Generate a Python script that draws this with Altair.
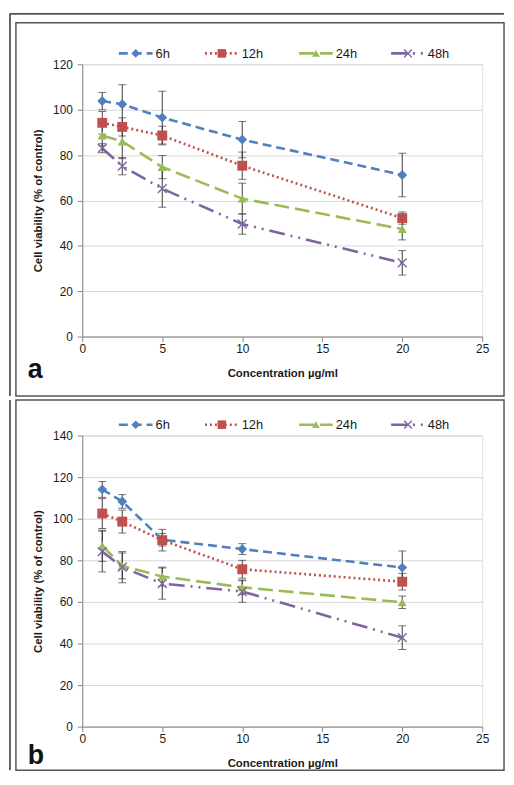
import altair as alt
import pandas as pd

# ---------------- data ----------------
series = ["6h", "12h", "24h", "48h"]
conc = [1.25, 2.5, 5, 10, 20]

a_6h = [103.8, 102.4, 96.5, 86.8, 71.2]
a_6h_err = [3.8, 8.6, 11.6, 8.0, 9.6]
a_12h = [94.2, 92.4, 88.6, 75.3, 52.2]
a_12h_err = [5.0, 4.0, 4.1, 6.0, 2.7]
a_24h = [88.6, 86.0, 74.7, 60.8, 47.4]
a_24h_err = [4.5, 7.6, 5.1, 6.8, 4.8]
a_48h = [83.0, 75.1, 65.2, 49.6, 32.5]
a_48h_err = [2.0, 3.8, 8.2, 4.5, 5.4]

b_6h = [114.1, 108.3, 89.9, 85.4, 76.5]
b_6h_err = [3.8, 3.3, 3.0, 2.6, 8.0]
b_12h = [102.5, 98.6, 89.7, 75.7, 69.7]
b_12h_err = [7.2, 5.5, 5.2, 4.3, 4.0]
b_24h = [87.0, 77.3, 72.2, 67.0, 59.8]
b_24h_err = [7.5, 6.2, 4.5, 3.5, 3.0]
b_48h = [84.2, 76.7, 68.8, 65.0, 42.8]
b_48h_err = [9.8, 7.5, 7.5, 5.2, 5.7]

x_ticks = [0, 5, 10, 15, 20, 25]
a_y_ticks = [0, 20, 40, 60, 80, 100, 120]
b_y_ticks = [0, 20, 40, 60, 80, 100, 120, 140]

# ---------------- styles ----------------
colors = ["#4F81BD", "#C0504D", "#9BBB59", "#8064A2"]
dashes = [[9, 5], [2, 3], [15, 6], [16, 6, 2, 6, 2, 6]]
shapes = ["diamond", "square", "triangle-up", "M-1,-1L1,1M-1,1L1,-1"]
msizes = [100, 100, 85, 80]
FONT = "Liberation Sans"
TXT = "#1a1a1a"
AXC = "#868686"
FRAME = "#555555"

W = 404
RIGHT = 426
LEFT_OUT = -73


def build_df(vals, errs):
    rows = []
    for s, v, e in zip(series, vals, errs):
        for xx, yy, ee in zip(conc, v, e):
            rows.append({"series": s, "x": xx, "y": yy, "lo": yy - ee, "hi": yy + ee})
    return pd.DataFrame(rows)


one = alt.Data(values=[{"k": 0}])


def panel(df, yticks, letter, H, frame_top, frame_bottom, legend_y, letter_y, outer_top):
    ymax = yticks[-1]
    xs = alt.Scale(domain=[0, 25], nice=False, zero=True)
    ys = alt.Scale(domain=[0, ymax], nice=False)
    xaxis = alt.Axis(values=x_ticks, title="Concentration µg/ml", grid=False,
                     domainColor=AXC, tickColor=AXC, tickSize=5, labelPadding=2,
                     labelFlush=False,
                     labelFontSize=12, labelColor=TXT, labelFont=FONT,
                     titleFont=FONT, titleFontSize=11.5, titleFontWeight="bold",
                     titleColor=TXT, titlePadding=13)
    yaxis = alt.Axis(values=yticks, title="Cell viability (% of control)", grid=True,
                     gridColor="#d9d9d9", domainColor=AXC, tickColor=AXC, tickSize=5,
                     labelPadding=5, labelFlush=False,
                     labelFontSize=12, labelColor=TXT, labelFont=FONT,
                     titleFont=FONT, titleFontSize=11.5, titleFontWeight="bold",
                     titleColor=TXT, titlePadding=9)
    X = alt.X("x:Q", scale=xs, axis=xaxis)
    col = alt.Color("series:N", scale=alt.Scale(domain=series, range=colors), legend=None)
    dash = alt.StrokeDash("series:N", scale=alt.Scale(domain=series, range=dashes), legend=None)

    base = alt.Chart(df)
    lines = base.mark_line(strokeWidth=2.6).encode(
        x=X, y=alt.Y("y:Q", scale=ys, axis=yaxis), color=col, strokeDash=dash,
        detail="series:N")
    ebar = base.mark_rule(color="#3a3a3a", strokeWidth=1).encode(
        x=X, y=alt.Y("lo:Q", scale=ys, axis=yaxis), y2="hi:Q")
    cap_lo = base.mark_tick(orient="horizontal", size=8, thickness=1, color="#3a3a3a").encode(
        x=X, y=alt.Y("lo:Q", scale=ys, axis=yaxis))
    cap_hi = base.mark_tick(orient="horizontal", size=8, thickness=1, color="#3a3a3a").encode(
        x=X, y=alt.Y("hi:Q", scale=ys, axis=yaxis))
    layers = [lines, ebar, cap_lo, cap_hi]
    for s, c, sh, sz in zip(series, colors, shapes, msizes):
        filled = s != "48h"
        m = base.transform_filter(alt.datum.series == s).mark_point(
            shape=sh, size=sz, filled=filled, opacity=1,
            color=c, strokeWidth=1.4).encode(x=X, y=alt.Y("y:Q", scale=ys, axis=yaxis))
        layers.append(m)

    # manual legend
    starts = [37, 124, 219, 312]
    for s, c, d, sh, sz, x0 in zip(series, colors, dashes, shapes, msizes, starts):
        layers.append(alt.Chart(one).mark_rule(color=c, strokeWidth=2.6, strokeDash=d).encode(
            x=alt.value(x0), x2=alt.value(x0 + 34), y=alt.value(legend_y)))
        layers.append(alt.Chart(one).mark_point(
            shape=sh, size=sz * 0.75, filled=(s != "48h"), opacity=1, color=c,
            strokeWidth=1.4).encode(x=alt.value(x0 + 17), y=alt.value(legend_y)))
        layers.append(alt.Chart(one).mark_text(
            align="left", baseline="middle", font=FONT, fontSize=13, color=TXT).encode(
            x=alt.value(x0 + 37), y=alt.value(legend_y + 0.5), text=alt.value(s)))

    # panel letter
    layers.append(alt.Chart(one).mark_text(
        align="left", baseline="alphabetic", font=FONT, fontSize=27, fontWeight="bold",
        color="#111111").encode(x=alt.value(-55), y=alt.value(letter_y), text=alt.value(letter)))

    # frames
    layers.append(alt.Chart(one).mark_rect(filled=False, stroke=FRAME, strokeWidth=1.5).encode(
        x=alt.value(-67), x2=alt.value(RIGHT), y=alt.value(frame_top), y2=alt.value(frame_bottom)))
    layers.append(alt.Chart(one).mark_rule(color="#111111", strokeWidth=1.3).encode(
        x=alt.value(LEFT_OUT), y=alt.value(outer_top), y2=alt.value(frame_bottom)))
    if letter == "a":
        layers.append(alt.Chart(one).mark_rule(color="#111111", strokeWidth=1.3).encode(
            x=alt.value(LEFT_OUT), x2=alt.value(RIGHT), y=alt.value(outer_top)))

    return alt.layer(*layers).properties(width=W, height=H)


dfa = build_df([a_6h, a_12h, a_24h, a_48h], [a_6h_err, a_12h_err, a_24h_err, a_48h_err])
dfb = build_df([b_6h, b_12h, b_24h, b_48h], [b_6h_err, b_12h_err, b_24h_err, b_48h_err])

pa = panel(dfa, a_y_ticks, "a", 275, -42, 335, -11, 317, -51)
pb = panel(dfb, b_y_ticks, "b", 294, -36, 338, -11, 332, -36)

chart = alt.vconcat(pa, pb, spacing=0).properties(
    padding={"left": 0, "top": 0, "right": 0, "bottom": 0}
).configure_view(stroke=None).configure(background="white")

chart.save("out.html", embed_options={"renderer": "svg", "actions": False})
